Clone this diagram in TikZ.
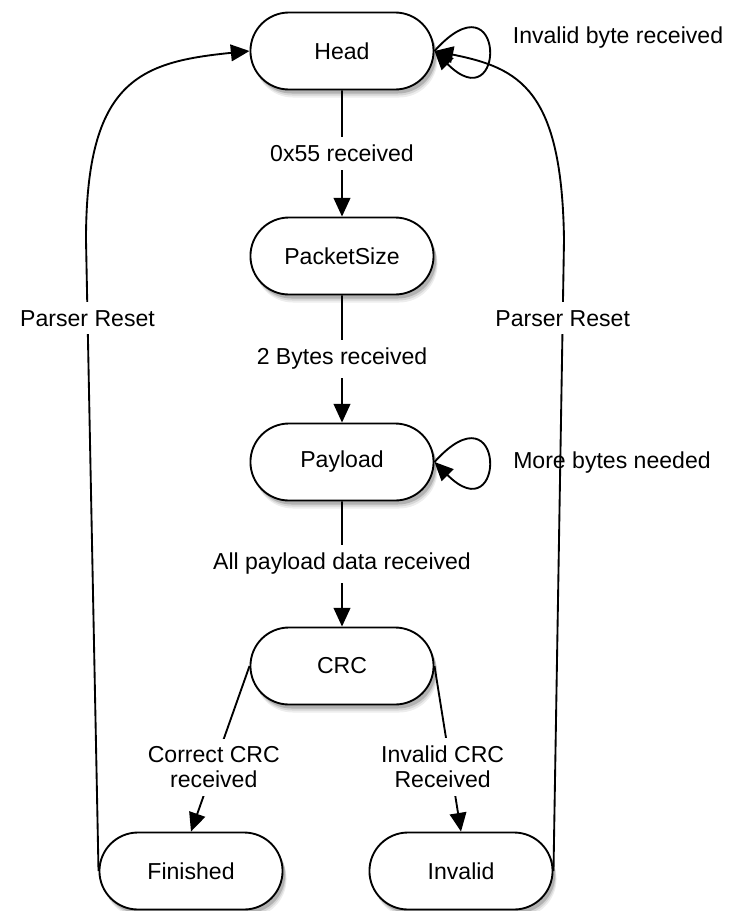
\documentclass[tikz,border=0pt]{standalone}
\usepackage{fontspec}
\setmainfont{Liberation Sans}
\usetikzlibrary{arrows.meta,shapes.misc}

\tikzset{
    conn/.style={draw=black,line width=1.4pt,-{Triangle[length=14pt,width=12.5pt]}},
    lbl/.style={fill=white,inner sep=6pt,align=center},
    state/.style={rounded rectangle,draw,line width=1.4pt,fill=white,
        minimum width=144pt,minimum height=57.75pt,
        preaction={draw=none,fill=black!7,transform canvas={xshift=3pt,yshift=-6pt}},
        preaction={draw=none,fill=black!16,transform canvas={xshift=2.5pt,yshift=-4.5pt}},
        preaction={draw=none,fill=black!30,transform canvas={xshift=2pt,yshift=-3pt}}}
}

\begin{document}
\begin{tikzpicture}[x=0.75pt,y=-0.75pt,every node/.style={font=\fontsize{17.3}{18.5}\selectfont}]
            \useasboundingbox (0,0) rectangle (730,911);
            \node[state] (Head) at (342, 51) {Head};
            \node[state] (PacketSize) at (342, 256) {PacketSize};
            \node[state] (Payload) at (342, 462) {Payload};
            \node[state] (CRC) at (342, 666) {CRC};
            \node[state] (Finished) at (191, 871) {Finished};
            \node[state] (Invalid) at (461, 871) {Invalid};
            \path (Head) edge[conn] node[lbl] {0x55 received} (PacketSize);
            \path (PacketSize) edge[conn] node[lbl] {2 Bytes received} (Payload);
            \path (Payload) edge[conn] node[lbl] {All payload data received} (CRC);
            \path (CRC.west) edge[conn] node[lbl,pos=0.61] {Correct CRC\\received} (Finished.north);
            \path (CRC.east) edge[conn] node[lbl,pos=0.61,xshift=-6pt] {Invalid CRC\\Received} (Invalid.north);
            % self loops
            \draw[conn] (Head.east) .. controls +(72,-80) and +(72,72) .. (Head.east);
            \draw[conn] (Payload.east) .. controls +(72,-80) and +(72,72) .. (Payload.east);
            \node (HeadLoop) at (618, 38) {Invalid byte received};
            \node (PayloadLoop) at (612, 463) {More bytes needed};
            % resets
            \draw[conn] (Finished.west) -- node[lbl,pos=0.876] {Parser Reset} (86, 240)
                .. controls (86, 80) and (140, 62) .. (Head.west);
            \draw[conn] (Invalid.east) -- node[lbl,pos=0.876] {Parser Reset} (564, 240)
                .. controls (562, 90) and (520, 68) .. (Head.east);
        \end{tikzpicture}
\end{document}
